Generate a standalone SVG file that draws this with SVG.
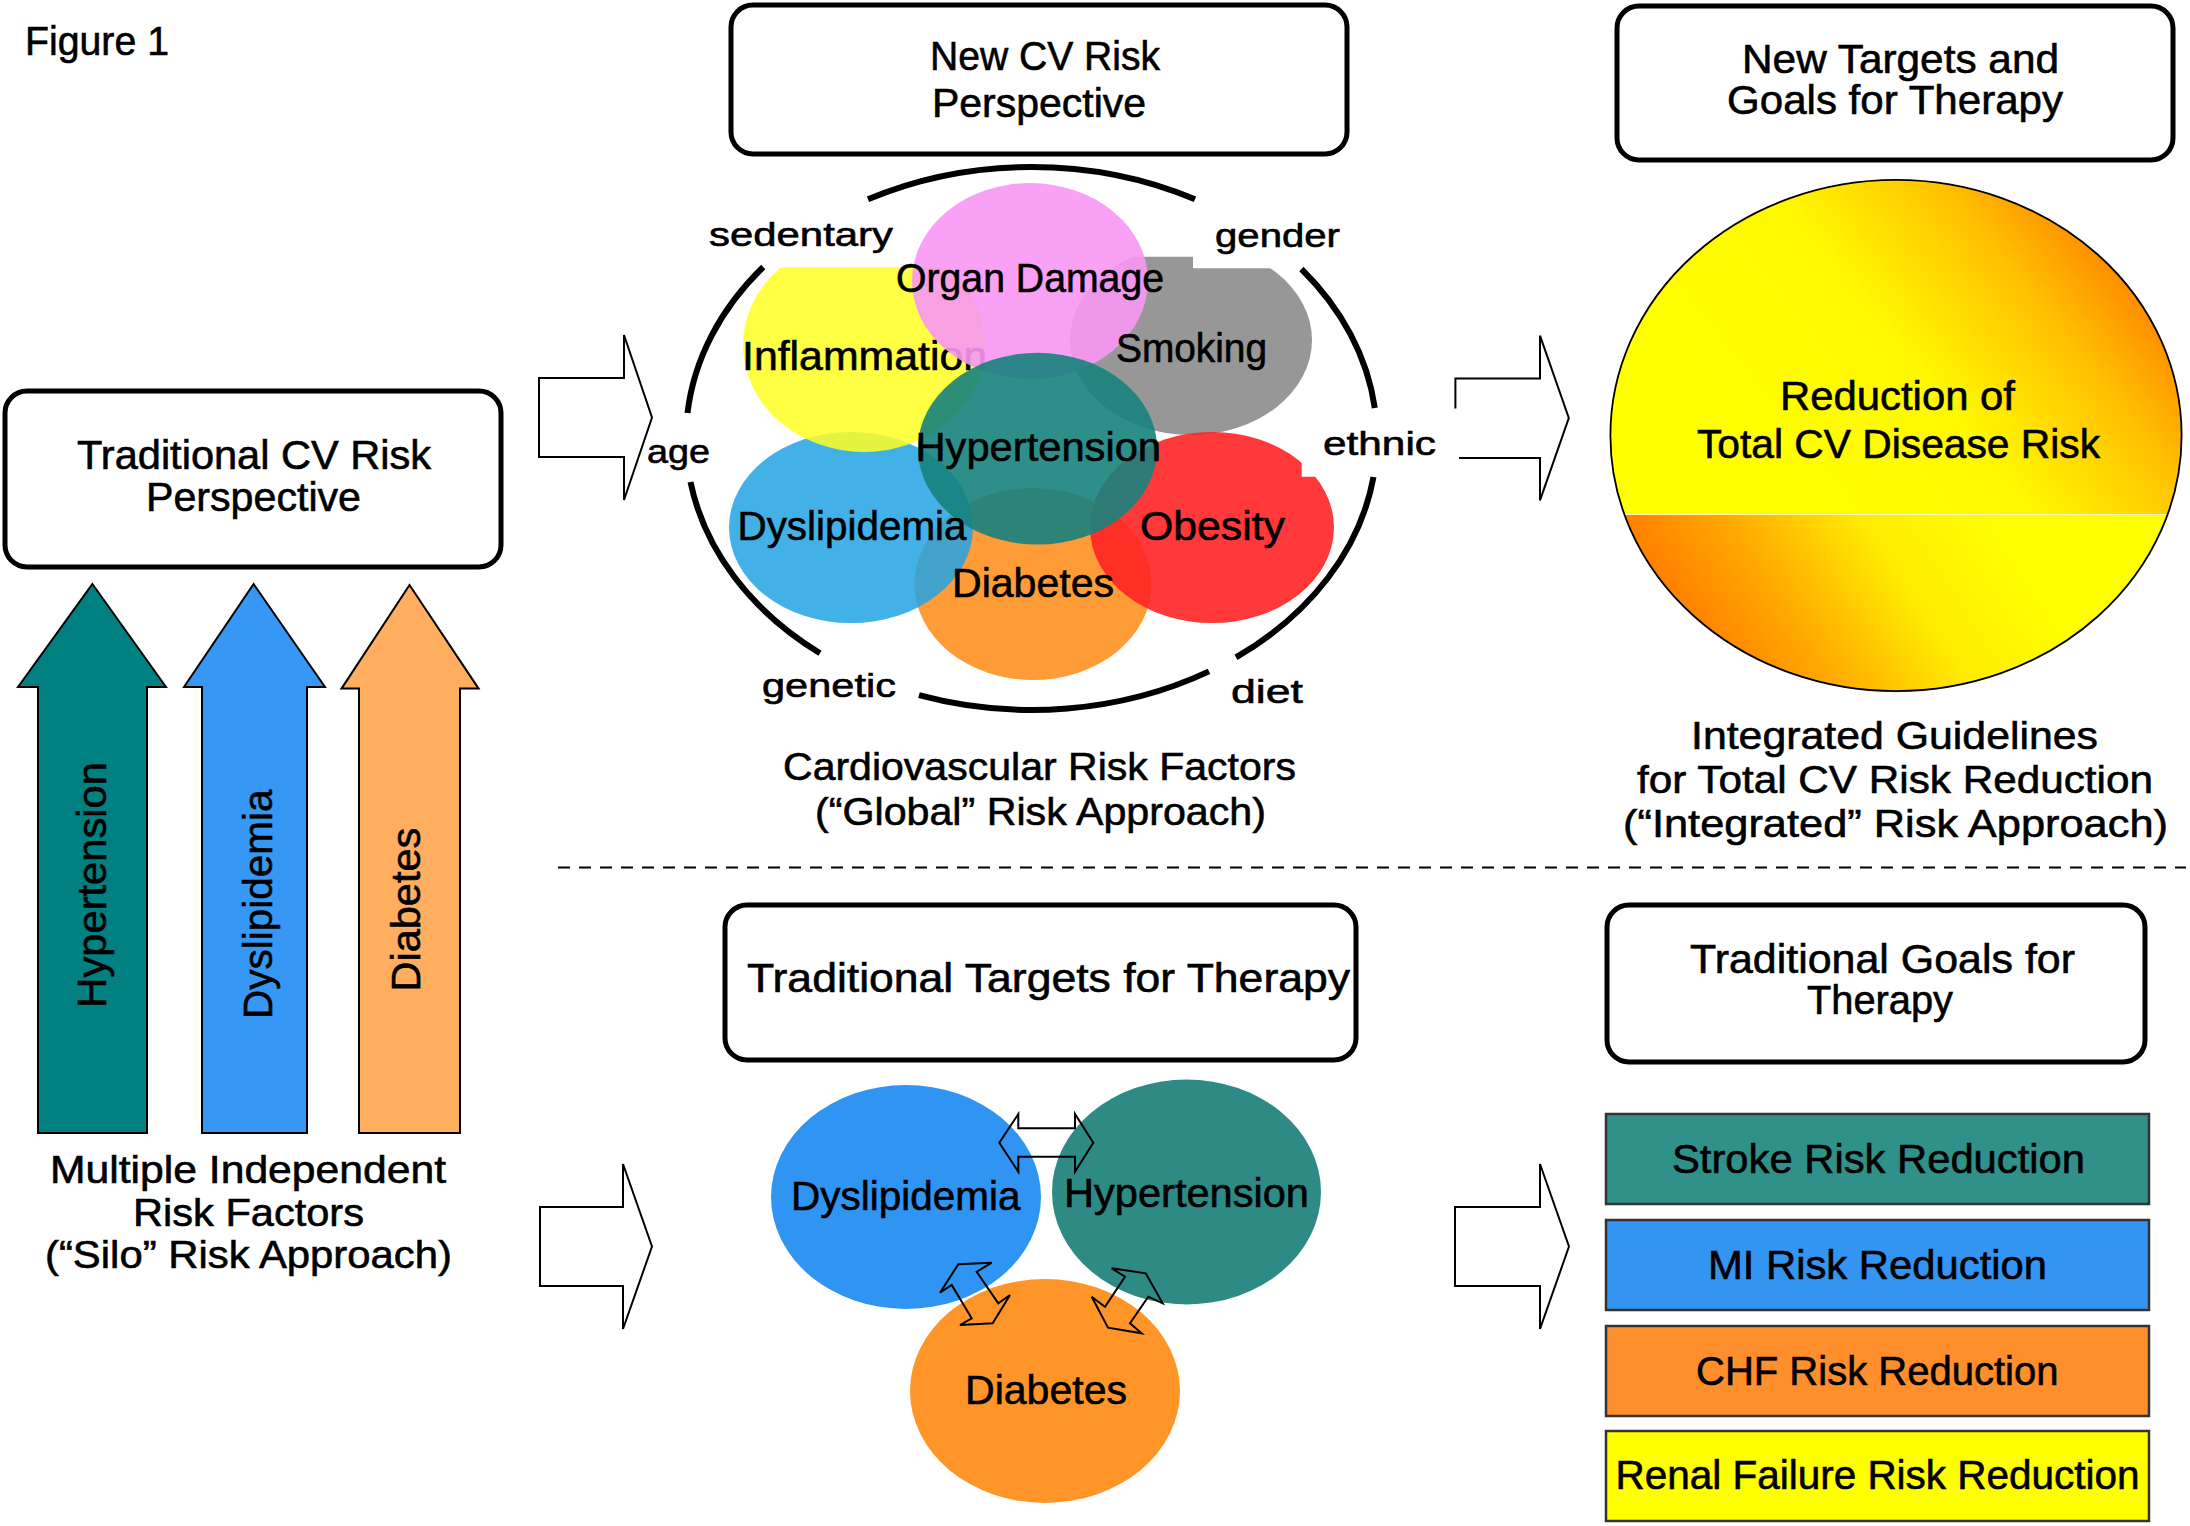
<svg xmlns="http://www.w3.org/2000/svg" width="2190" height="1526" viewBox="0 0 2190 1526">
<defs>
<style>
.t{font-family:"Liberation Sans",Arial,sans-serif;fill:#000;stroke:#000;stroke-width:0.6}
.f40{font-size:40px}
.f33{font-size:33px}
.box{fill:#fff;stroke:#000;stroke-width:5}
.hollow{fill:none;stroke:#000;stroke-width:2}
.dbl{fill:none;stroke:#000;stroke-width:2;stroke-linejoin:miter}
.bar{stroke:#333;stroke-width:2.5}
.ring{fill:none;stroke:#000;stroke-width:6}
.up{stroke:#000;stroke-width:2}
</style>
<linearGradient id="gTop" gradientUnits="userSpaceOnUse" x1="1750" y1="480" x2="2100" y2="200">
<stop offset="0" stop-color="#FFFF00"/>
<stop offset="0.45" stop-color="#FFF800"/>
<stop offset="0.75" stop-color="#FFC000"/>
<stop offset="1" stop-color="#FF7A00"/>
</linearGradient>
<linearGradient id="gBot" gradientUnits="userSpaceOnUse" x1="1690" y1="650" x2="1970" y2="470">
<stop offset="0" stop-color="#FF7A00"/>
<stop offset="0.3" stop-color="#FFA800"/>
<stop offset="0.65" stop-color="#FFEC00"/>
<stop offset="1" stop-color="#FFFF00"/>
</linearGradient>
<clipPath id="cTop"><rect x="1600" y="170" width="600" height="344.5"/></clipPath>
<clipPath id="cBot"><rect x="1600" y="514.5" width="600" height="200"/></clipPath>
<clipPath id="cYel"><rect x="700" y="267.3" width="350" height="250"/></clipPath>
<clipPath id="cGray"><path d="M1000 256.7H1193V268.3H1400V520H1000Z"/></clipPath>
<clipPath id="cRed"><path d="M1050 400H1301.7V476.7H1400V700H1050Z"/></clipPath>
</defs>
<rect width="2190" height="1526" fill="#fff"/>

<g id="figure-label"><text class="t" style="font-size:41px" x="25" y="55" textLength="144" lengthAdjust="spacingAndGlyphs">Figure 1</text></g>

<g id="traditional-perspective">
<rect class="box" x="5" y="391" width="496" height="176" rx="22"/>
<text class="t f40" x="77" y="469" textLength="354" lengthAdjust="spacingAndGlyphs">Traditional CV Risk</text>
<text class="t f40" x="146" y="511" textLength="215" lengthAdjust="spacingAndGlyphs">Perspective</text>
</g>

<g id="silo-arrows">
<g id="arrow-hypertension">
<polygon class="up" fill="#008080" points="92.4,584 166,687 147,687 147,1133 38,1133 38,687 18,687"/>
<text class="t" style="font-size:41px" transform="translate(105.8,1007.7) rotate(-90)" textLength="245.7" lengthAdjust="spacingAndGlyphs">Hypertension</text>
</g>
<g id="arrow-dyslipidemia">
<polygon class="up" fill="#3797F5" points="253.6,584 325,687 307,687 307,1133 202,1133 202,687 184,687"/>
<text class="t" style="font-size:41px" transform="translate(272.3,1019) rotate(-90)" textLength="229.4" lengthAdjust="spacingAndGlyphs">Dyslipidemia</text>
</g>
<g id="arrow-diabetes">
<polygon class="up" fill="#FFAD5E" points="409.5,585 478.6,688.6 460,688.6 460,1133 359,1133 359,688.6 341.5,688.6"/>
<text class="t" style="font-size:41px" transform="translate(419.6,991.6) rotate(-90)" textLength="164" lengthAdjust="spacingAndGlyphs">Diabetes</text>
</g>
<g id="silo-caption">
<text class="t" style="font-size:39px" x="50" y="1183" textLength="396" lengthAdjust="spacingAndGlyphs">Multiple Independent</text>
<text class="t" style="font-size:39px" x="133" y="1226" textLength="231" lengthAdjust="spacingAndGlyphs">Risk Factors</text>
<text class="t" style="font-size:39px" x="45" y="1268" textLength="407" lengthAdjust="spacingAndGlyphs">(“Silo” Risk Approach)</text>
</g>
</g>

<g id="new-cv-perspective">
<rect class="box" x="731" y="5" width="616" height="149" rx="22"/>
<text class="t f40" x="930" y="70" textLength="230" lengthAdjust="spacingAndGlyphs">New CV Risk</text>
<text class="t f40" x="932" y="117" textLength="214" lengthAdjust="spacingAndGlyphs">Perspective</text>
</g>

<g id="risk-cluster">
<g id="ring">
<path class="ring" d="M868 199.3A345.5 271.5 0 0 1 1195 199.3"/>
<path class="ring" d="M1301.4 269A345.5 271.5 0 0 1 1374.8 408"/>
<path class="ring" d="M1373.5 477A345.5 271.5 0 0 1 1236 657.3"/>
<path class="ring" d="M1209 671.4A345.5 271.5 0 0 1 919 695.2"/>
<path class="ring" d="M820 653.2A345.5 271.5 0 0 1 690.5 482"/>
<path class="ring" d="M687.5 413A345.5 271.5 0 0 1 763.3 267"/>
</g>
<g id="c-diabetes"><ellipse cx="1033" cy="584" rx="118.5" ry="96" fill="#FF9427" fill-opacity="0.92"/></g>
<g id="c-dyslipidemia"><ellipse cx="851" cy="527.5" rx="122" ry="95.5" fill="#21A3E3" fill-opacity="0.85"/></g>
<g id="c-inflammation">
<ellipse cx="864" cy="345" rx="121" ry="107" fill="#FFFF22" fill-opacity="0.85" clip-path="url(#cYel)"/>
<text class="t f40" x="742" y="370" textLength="245" lengthAdjust="spacingAndGlyphs">Inflammation</text>
</g>
<g id="c-smoking"><ellipse cx="1191" cy="340" rx="121" ry="95" fill="#8E8E8E" fill-opacity="0.92" clip-path="url(#cGray)"/></g>
<g id="c-organ"><ellipse cx="1030" cy="281" rx="118" ry="98" fill="#F797F4" fill-opacity="0.9"/></g>
<g id="c-obesity"><ellipse cx="1212" cy="527.5" rx="122" ry="95.5" fill="#FF2424" fill-opacity="0.9" clip-path="url(#cRed)"/></g>
<g id="c-hypertension"><ellipse cx="1037.5" cy="448.7" rx="119.6" ry="95.9" fill="#16827D" fill-opacity="0.9"/></g>
<g id="cluster-labels">
<text class="t f40" x="896" y="291.5" textLength="268" lengthAdjust="spacingAndGlyphs">Organ Damage</text>
<text class="t f40" x="1116" y="362" textLength="151" lengthAdjust="spacingAndGlyphs">Smoking</text>
<text class="t f40" x="915.5" y="461" textLength="245.5" lengthAdjust="spacingAndGlyphs">Hypertension</text>
<text class="t f40" x="737.5" y="539.5" textLength="229" lengthAdjust="spacingAndGlyphs">Dyslipidemia</text>
<text class="t f40" x="1140" y="540" textLength="145" lengthAdjust="spacingAndGlyphs">Obesity</text>
<text class="t f40" x="952" y="596.5" textLength="162" lengthAdjust="spacingAndGlyphs">Diabetes</text>
</g>
<g id="ring-labels">
<text class="t f33" x="709" y="246" textLength="184" lengthAdjust="spacingAndGlyphs">sedentary</text>
<text class="t f33" x="1215" y="247" textLength="125" lengthAdjust="spacingAndGlyphs">gender</text>
<text class="t f33" x="1323" y="455" textLength="113" lengthAdjust="spacingAndGlyphs">ethnic</text>
<text class="t f33" x="647" y="463" textLength="63" lengthAdjust="spacingAndGlyphs">age</text>
<text class="t f33" x="762" y="697" textLength="134" lengthAdjust="spacingAndGlyphs">genetic</text>
<text class="t f33" x="1231" y="703" textLength="72" lengthAdjust="spacingAndGlyphs">diet</text>
</g>
<g id="global-caption">
<text class="t" style="font-size:39px" x="783" y="780" textLength="513" lengthAdjust="spacingAndGlyphs">Cardiovascular Risk Factors</text>
<text class="t" style="font-size:39px" x="815" y="825" textLength="451" lengthAdjust="spacingAndGlyphs">(“Global” Risk Approach)</text>
</g>
</g>

<g id="new-targets">
<rect class="box" x="1617" y="6" width="556" height="154" rx="22"/>
<text class="t f40" x="1742" y="72.5" textLength="317" lengthAdjust="spacingAndGlyphs">New Targets and</text>
<text class="t f40" x="1727" y="114" textLength="336" lengthAdjust="spacingAndGlyphs">Goals for Therapy</text>
</g>

<g id="total-risk">
<ellipse cx="1896" cy="435.5" rx="285.6" ry="255.6" fill="url(#gTop)" clip-path="url(#cTop)"/>
<ellipse cx="1896" cy="435.5" rx="285.6" ry="255.6" fill="url(#gBot)" clip-path="url(#cBot)"/>
<line x1="1625" y1="514.5" x2="2167" y2="514.5" stroke="#FFF6C0" stroke-width="1.2"/>
<ellipse cx="1896" cy="435.5" rx="285.6" ry="255.6" fill="none" stroke="#000" stroke-width="1.8"/>
<text class="t f40" x="1780" y="410" textLength="235" lengthAdjust="spacingAndGlyphs">Reduction of</text>
<text class="t f40" x="1697" y="458" textLength="403" lengthAdjust="spacingAndGlyphs">Total CV Disease Risk</text>
</g>
<g id="integrated-caption">
<text class="t" style="font-size:39px" x="1691" y="749" textLength="407" lengthAdjust="spacingAndGlyphs">Integrated Guidelines</text>
<text class="t" style="font-size:39px" x="1637" y="793" textLength="516" lengthAdjust="spacingAndGlyphs">for Total CV Risk Reduction</text>
<text class="t" style="font-size:39px" x="1623" y="836.5" textLength="545" lengthAdjust="spacingAndGlyphs">(“Integrated” Risk Approach)</text>
</g>

<line id="divider" x1="558" y1="867.5" x2="2186" y2="867.5" stroke="#000" stroke-width="2" stroke-dasharray="12 9"/>

<g id="traditional-targets">
<rect class="box" x="725" y="905" width="631" height="155" rx="22"/>
<text class="t f40" x="747" y="992" textLength="603" lengthAdjust="spacingAndGlyphs">Traditional Targets for Therapy</text>
</g>
<g id="targets-circles">
<g id="t-diabetes"><ellipse cx="1045" cy="1391" rx="135" ry="112" fill="#FF9528"/></g>
<g id="t-dyslipidemia"><ellipse cx="906" cy="1197" rx="135" ry="112" fill="#3094F2"/></g>
<g id="t-hypertension"><ellipse cx="1186.5" cy="1192" rx="134.5" ry="112.5" fill="#2E8A84"/></g>
<text class="t f40" x="791" y="1210" textLength="229.5" lengthAdjust="spacingAndGlyphs">Dyslipidemia</text>
<text class="t f40" x="1064" y="1207" textLength="245" lengthAdjust="spacingAndGlyphs">Hypertension</text>
<text class="t f40" x="965" y="1404" textLength="162" lengthAdjust="spacingAndGlyphs">Diabetes</text>
</g>

<g id="traditional-goals">
<rect class="box" x="1607" y="905" width="538" height="157" rx="22"/>
<text class="t f40" x="1690" y="973" textLength="385" lengthAdjust="spacingAndGlyphs">Traditional Goals for</text>
<text class="t f40" x="1807" y="1014" textLength="146" lengthAdjust="spacingAndGlyphs">Therapy</text>
</g>
<g id="goal-stroke"><rect class="bar" x="1606" y="1114" width="543" height="90" fill="#2F918A"/><text class="t f40" x="1672" y="1172.5" textLength="413" lengthAdjust="spacingAndGlyphs">Stroke Risk Reduction</text></g>
<g id="goal-mi"><rect class="bar" x="1606" y="1220" width="543" height="90" fill="#3494F2"/><text class="t f40" x="1708" y="1279" textLength="339" lengthAdjust="spacingAndGlyphs">MI Risk Reduction</text></g>
<g id="goal-chf"><rect class="bar" x="1606" y="1326" width="543" height="90" fill="#FF8E2C"/><text class="t f40" x="1696" y="1384.5" textLength="362.5" lengthAdjust="spacingAndGlyphs">CHF Risk Reduction</text></g>
<g id="goal-renal"><rect class="bar" x="1606" y="1431" width="543" height="90" fill="#FFFF00"/><text class="t f40" x="1615.5" y="1489" textLength="524" lengthAdjust="spacingAndGlyphs">Renal Failure Risk Reduction</text></g>

<g id="connectors">
<path class="hollow" d="M539 378H624V335L652 417.5L624 500V457H539Z"/>
<path class="hollow" d="M1455.4 408.6V378.5H1540V335.7L1568.8 418L1540 500.3V458H1459"/>
<path class="hollow" d="M540 1207H623V1164L652 1246.5L623 1329V1286H540Z"/>
<path class="hollow" d="M1455 1207H1540V1164L1569 1246.5L1540 1329V1286H1455Z"/>
<path class="dbl" d="M999.3 1142.7L1018.3 1114V1128.3H1075V1114L1093.3 1142.7L1075 1171.7V1156.7H1018.3V1171.7Z"/>
<polygon class="dbl" points="958.3,1264.3 991.7,1262.7 976.7,1271.7 998.3,1303.3 1010,1295 992.7,1323.3 960,1325 971.7,1318.3 951.7,1285 940,1292.7"/>
<polygon class="dbl" points="1145.7,1273.3 1162.7,1303.3 1148.3,1296.7 1130,1323.3 1141.7,1333.3 1108,1327.7 1091.7,1296.7 1105,1306.7 1125,1276.7 1111.7,1268.3"/>
</g>
</svg>
